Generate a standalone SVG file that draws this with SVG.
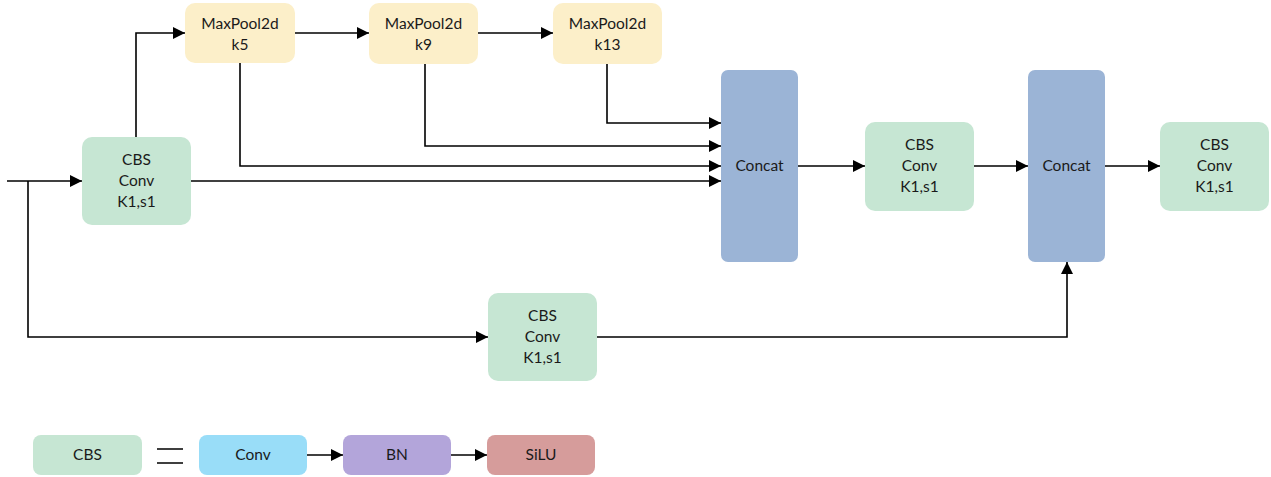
<svg xmlns="http://www.w3.org/2000/svg" width="1271" height="477" viewBox="0 0 1271 477">
<style>
text{font-family:Lato,"Open Sans","Liberation Sans",sans-serif;font-size:15.5px;fill:#1a1a1a;text-anchor:middle}
.cbs{fill:#c6e6d3}
.mp{fill:#fcefc9}
.cat{fill:#9bb4d6}
.ln{fill:none;stroke:#000;stroke-width:1.6}
</style>
<defs>
<marker id="ah" viewBox="0 0 10 10" refX="10" refY="5" markerWidth="12" markerHeight="12" markerUnits="userSpaceOnUse" orient="auto">
<path d="M0,0 L10,5 L0,10 z" fill="#000"/>
</marker>
</defs>
<rect width="1271" height="477" fill="#fff"/>
<g id="connectors">
<path class="ln" d="M7,181 H82" marker-end="url(#ah)"/>
<path class="ln" d="M28,181 V337 H488" marker-end="url(#ah)"/>
<path class="ln" d="M136,137 V33 H185" marker-end="url(#ah)"/>
<path class="ln" d="M295,33 H369" marker-end="url(#ah)"/>
<path class="ln" d="M478,33 H553" marker-end="url(#ah)"/>
<path class="ln" d="M607,63 V123 H721" marker-end="url(#ah)"/>
<path class="ln" d="M425,64 V146 H721" marker-end="url(#ah)"/>
<path class="ln" d="M240,63 V166 H721" marker-end="url(#ah)"/>
<path class="ln" d="M191,181 H721" marker-end="url(#ah)"/>
<path class="ln" d="M798,166 H865" marker-end="url(#ah)"/>
<path class="ln" d="M974,166 H1028" marker-end="url(#ah)"/>
<path class="ln" d="M1105,166 H1160" marker-end="url(#ah)"/>
<path class="ln" d="M597,337 H1067 V262" marker-end="url(#ah)"/>
<path class="ln" d="M307,455 H343" marker-end="url(#ah)"/>
<path class="ln" d="M451,455 H487" marker-end="url(#ah)"/>
<path class="ln" d="M157,449 H183 M157,463 H183"/>
</g>
<g id="cbs1"><rect class="cbs" x="82" y="137" width="109" height="88" rx="10"/><text x="136.5" y="165">CBS</text><text x="136.5" y="186">Conv</text><text x="136.5" y="207">K1,s1</text></g>
<g id="mp5"><rect class="mp" x="185" y="3" width="110" height="60" rx="10"/><text x="240" y="29">MaxPool2d</text><text x="240" y="50">k5</text></g>
<g id="mp9"><rect class="mp" x="369" y="3" width="109" height="61" rx="10"/><text x="423.5" y="29">MaxPool2d</text><text x="423.5" y="50">k9</text></g>
<g id="mp13"><rect class="mp" x="553" y="3" width="109" height="61" rx="10"/><text x="607.5" y="29">MaxPool2d</text><text x="607.5" y="50">k13</text></g>
<g id="concat1"><rect class="cat" x="721" y="70" width="77" height="192" rx="7"/><text x="759.5" y="171">Concat</text></g>
<g id="cbs2"><rect class="cbs" x="865" y="122" width="109" height="89" rx="10"/><text x="919.5" y="150">CBS</text><text x="919.5" y="171">Conv</text><text x="919.5" y="192">K1,s1</text></g>
<g id="concat2"><rect class="cat" x="1028" y="70" width="77" height="192" rx="7"/><text x="1066.5" y="171">Concat</text></g>
<g id="cbs3"><rect class="cbs" x="1160" y="122" width="109" height="89" rx="10"/><text x="1214.5" y="150">CBS</text><text x="1214.5" y="171">Conv</text><text x="1214.5" y="192">K1,s1</text></g>
<g id="cbs4"><rect class="cbs" x="488" y="293" width="109" height="88" rx="10"/><text x="542.5" y="321">CBS</text><text x="542.5" y="342">Conv</text><text x="542.5" y="363">K1,s1</text></g>
<g id="leg-cbs"><rect class="cbs" x="33" y="435" width="109" height="40" rx="8"/><text x="87.5" y="460">CBS</text></g>
<g id="leg-conv"><rect fill="#99ddf8" x="199" y="435" width="108" height="40" rx="8"/><text x="253" y="460">Conv</text></g>
<g id="leg-bn"><rect fill="#b3a5da" x="343" y="435" width="108" height="40" rx="8"/><text x="397" y="460">BN</text></g>
<g id="leg-silu"><rect fill="#d69c9b" x="487" y="435" width="108" height="40" rx="8"/><text x="541" y="460">SiLU</text></g>
</svg>
